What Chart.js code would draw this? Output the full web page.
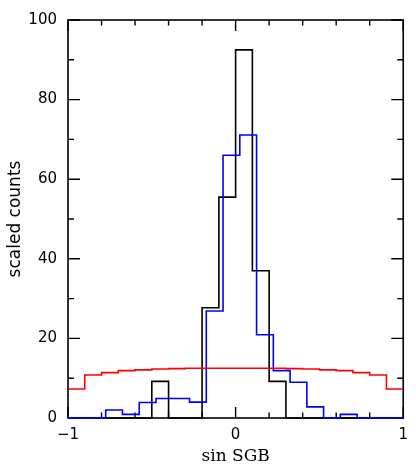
<!DOCTYPE html>
<html>
<head>
<meta charset="utf-8">
<script src="https://cdn.jsdelivr.net/npm/chart.js@4"></script>
<style>
  html, body { margin: 0; padding: 0; background: #fff; }
  #wrap { width: 416px; height: 468px; }
</style>
</head>
<body>
<div id="wrap"><canvas id="histChart" width="416" height="468"></canvas></div>
<script>
// --- Data ---
const blackEdges = [-1.0, -0.9, -0.8, -0.7, -0.6, -0.5, -0.4, -0.3, -0.2, -0.1, 0.0, 0.1, 0.2, 0.3, 0.4, 0.5, 0.6, 0.7, 0.8, 0.9, 1.0];
const blackCounts = [0, 0, 0, 0, 0, 9.2, 0, 0, 27.7, 55.5, 92.5, 37.0, 9.2, 0, 0, 0, 0, 0, 0, 0];

const blueEdges = [-1.0, -0.775, -0.675, -0.575, -0.475, -0.375, -0.275, -0.175, -0.075, 0.025, 0.125, 0.225, 0.325, 0.425, 0.525, 0.625, 0.725, 1.0];
const blueCounts = [0, 2.0, 0.9, 3.9, 4.9, 4.9, 4.0, 26.9, 66.0, 71.1, 20.9, 11.9, 9.0, 2.8, 0, 0.9, 0];

const redEdges = [-1.0, -0.9, -0.8, -0.7, -0.6, -0.5, -0.4, -0.3, -0.2, -0.1, 0.0, 0.1, 0.2, 0.3, 0.4, 0.5, 0.6, 0.7, 0.8, 0.9, 1.0];
const redCounts = [7.3, 10.8, 11.4, 11.9, 12.1, 12.3, 12.4, 12.5, 12.5, 12.5, 12.5, 12.5, 12.5, 12.4, 12.3, 12.1, 11.9, 11.4, 10.8, 7.3];

const xTickLabels = ['\u22121', '0', '1'];
const xTitle = 'sin SGB';
const yTitle = 'scaled counts';

// step histogram: one point per left edge, last edge repeats last value
function stepPoints(edges, counts) {
    return edges.map((x, i) => ({ x: x, y: counts[Math.min(i, counts.length - 1)] }));
}

// --- Frame with inward ticks on all four sides ---
const framePlugin = {
    id: 'frame',
    beforeDatasetsDraw(chart) {
        const { ctx, chartArea: a, scales: { x, y } } = chart;
        ctx.save();
        ctx.strokeStyle = '#000';
        ctx.lineWidth = 1.6;
        ctx.strokeRect(a.left, a.top, a.right - a.left, a.bottom - a.top);

        ctx.lineWidth = 1.4;
        ctx.beginPath();
        for (let v = -1; v <= 1.0001; v += 0.2) {
            const val = Math.round(v * 10) / 10;
            const px = x.getPixelForValue(val);
            const len = (val === 0 || Math.abs(val) === 1) ? 11 : 5.5;
            ctx.moveTo(px, a.bottom); ctx.lineTo(px, a.bottom - len);
            ctx.moveTo(px, a.top); ctx.lineTo(px, a.top + len);
        }
        for (let v = 0; v <= 100; v += 10) {
            const py = y.getPixelForValue(v);
            const len = (v % 20 === 0) ? 12 : 6;
            ctx.moveTo(a.left, py); ctx.lineTo(a.left + len, py);
            ctx.moveTo(a.right, py); ctx.lineTo(a.right - len, py);
        }
        ctx.stroke();
        ctx.restore();
    }
};

const ctx = document.getElementById('histChart').getContext('2d');
const chart = new Chart(ctx, {
    type: 'scatter',
    data: {
        datasets: [
            {
                label: 'red',
                data: stepPoints(redEdges, redCounts),
                showLine: true, stepped: 'before',
                borderColor: '#ff0000', borderWidth: 1.6,
                pointRadius: 0, fill: false, clip: false
            },
            {
                label: 'blue',
                data: stepPoints(blueEdges, blueCounts),
                showLine: true, stepped: 'before',
                borderColor: '#0000ff', borderWidth: 1.6,
                pointRadius: 0, fill: false, clip: false
            },
            {
                label: 'black',
                data: stepPoints(blackEdges, blackCounts),
                showLine: true, stepped: 'before',
                borderColor: '#000000', borderWidth: 1.6,
                pointRadius: 0, fill: false, clip: false
            }
        ]
    },
    options: {
        responsive: false,
        animation: false,
        layout: { padding: { left: 0, top: 13, right: 10, bottom: 0 } },
        plugins: {
            legend: { display: false },
            tooltip: { enabled: false }
        },
        scales: {
            x: {
                type: 'linear',
                min: -1, max: 1,
                grid: { display: false, drawTicks: false },
                border: { display: false },
                ticks: {
                    stepSize: 1,
                    padding: 8,
                    color: '#000',
                    font: { family: 'DejaVu Sans', size: 15 },
                    maxRotation: 0,
                    callback: (v) => xTickLabels[Math.round(v) + 1]
                },
                title: {
                    display: true, text: xTitle, color: '#000',
                    font: { family: 'DejaVu Serif', size: 17 },
                    padding: { top: 0, bottom: 1 }
                },
                afterFit: (s) => { s.height = 50; }
            },
            y: {
                min: 0, max: 100,
                grid: { display: false, drawTicks: false },
                border: { display: false },
                ticks: {
                    stepSize: 20,
                    padding: 11,
                    color: '#000',
                    font: { family: 'DejaVu Sans', size: 15 }
                },
                title: {
                    display: true, text: yTitle, color: '#000',
                    font: { family: 'DejaVu Sans', size: 17 },
                    padding: { top: 5, bottom: 0 }
                },
                afterFit: (s) => { s.width = 68; }
            }
        }
    },
    plugins: [framePlugin]
});
</script>
</body>
</html>
